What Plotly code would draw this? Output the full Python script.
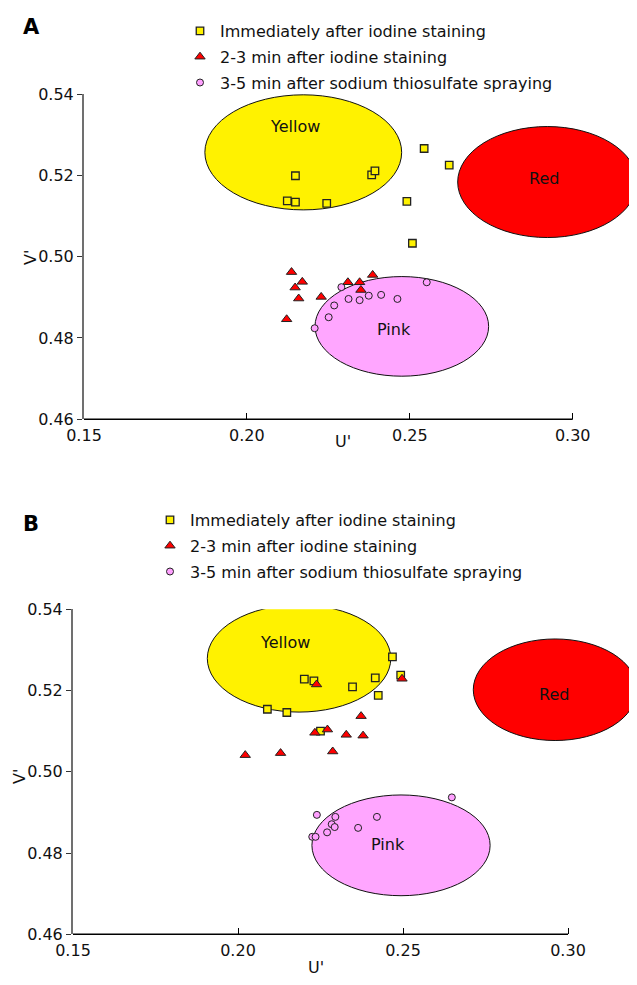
import plotly.graph_objects as go

FONT = "DejaVu Sans"
PAGE_W, PAGE_H = 637, 985
OFF = 8                      # default body margin of the html page
W, H = PAGE_W - 2 * OFF, PAGE_H - 2 * OFF

# ---------------- data ----------------
series_names = ["Immediately after iodine staining",
                "2-3 min after iodine staining",
                "3-5 min after sodium thiosulfate spraying"]

A_sq_u = [0.2149, 0.2124, 0.2149, 0.2245, 0.2383, 0.2393, 0.2544, 0.2621, 0.2491, 0.2508]
A_sq_v = [0.5199, 0.5137, 0.5134, 0.5131, 0.5201, 0.5211, 0.5266, 0.5225, 0.5136, 0.5033]
A_tri_u = [0.2137, 0.2148, 0.2170, 0.2159, 0.2122, 0.2228, 0.2310, 0.2346, 0.2350, 0.2386]
A_tri_v = [0.4962, 0.4924, 0.4938, 0.4897, 0.4846, 0.4901, 0.4937, 0.4937, 0.4918, 0.4955]
A_cir_u = [0.2208, 0.2251, 0.2268, 0.2290, 0.2312, 0.2346, 0.2374, 0.2412, 0.2462, 0.2552]
A_cir_v = [0.4824, 0.4851, 0.4880, 0.4925, 0.4896, 0.4893, 0.4904, 0.4906, 0.4896, 0.4937]

B_sq_u = [0.2089, 0.2148, 0.2201, 0.2230, 0.2347, 0.2416, 0.2425, 0.2468, 0.2493, 0.2250]
B_sq_v = [0.5154, 0.5146, 0.5228, 0.5224, 0.5209, 0.5231, 0.5188, 0.5283, 0.5238, 0.5100]
B_tri_u = [0.2238, 0.2233, 0.2022, 0.2129, 0.2497, 0.2373, 0.2271, 0.2328, 0.2379, 0.2287]
B_tri_v = [0.5215, 0.5096, 0.5041, 0.5046, 0.5229, 0.5137, 0.5104, 0.5091, 0.5089, 0.5050]
B_cir_u = [0.2239, 0.2225, 0.2235, 0.2270, 0.2284, 0.2295, 0.2293, 0.2364, 0.2421, 0.2648]
B_cir_v = [0.4894, 0.4840, 0.4840, 0.4851, 0.4871, 0.4889, 0.4864, 0.4862, 0.4889, 0.4937]

region_names = ["Yellow", "Red", "Pink"]
A_reg_u0 = [0.1871, 0.2647, 0.2209]
A_reg_u1 = [0.2475, 0.3197, 0.2742]
A_reg_v0 = [0.5115, 0.5047, 0.4706]
A_reg_v1 = [0.5398, 0.5320, 0.4951]
A_lab_u = [0.2148, 0.2913, 0.2453]
A_lab_v = [0.5319, 0.5191, 0.4821]

B_reg_u0 = [0.1907, 0.2713, 0.2224]
B_reg_u1 = [0.2463, 0.3209, 0.2764]
B_reg_v0 = [0.5147, 0.5077, 0.4695]
B_reg_v1 = [0.5411, 0.5327, 0.4943]
B_lab_u = [0.2142, 0.2958, 0.2455]
B_lab_v = [0.5318, 0.5191, 0.4822]

x_ticks = [0.15, 0.20, 0.25, 0.30]
y_ticks = [0.46, 0.48, 0.50, 0.52, 0.54]

# ---------------- styles ----------------
region_fill = ["#FFF200", "#FF0000", "#FFA6FF"]
sq_style = dict(symbol="square", size=7.5, color="#FFF200", line=dict(color="#222222", width=1.3))
tri_style = dict(symbol="triangle-up", size=9, color="#FF0000", line=dict(color="#222222", width=1.0))
cir_style = dict(symbol="circle", size=7, color="#FFA0FF", line=dict(color="#222222", width=1.0))

A_left, A_scale = 84, 488.7 / 0.15
B_left, B_scale = 73, 495.0 / 0.15
A_top, A_bot = 94.0, 419.3
B_top, B_bot = 609.3, 934.3
RIGHT_EDGE = OFF + W

A_xr = [0.15, 0.15 + (RIGHT_EDGE - A_left) / A_scale]
B_xr = [0.15, 0.15 + (RIGHT_EDGE - B_left) / B_scale]


def px(xp):
    return (xp - OFF) / W


def py(yp):
    return 1 - (yp - OFF) / H


fig = go.Figure()


def add_points(u, v, style, name, xa, ya, legend):
    fig.add_trace(go.Scatter(x=u, y=v, mode="markers", marker=style, name=name,
                             xaxis=xa, yaxis=ya, legend=legend, legendgroup=legend + name,
                             cliponaxis=False, hoverinfo="skip"))


add_points(A_sq_u, A_sq_v, sq_style, series_names[0], "x", "y", "legend")
add_points(A_tri_u, A_tri_v, tri_style, series_names[1], "x", "y", "legend")
add_points(A_cir_u, A_cir_v, cir_style, series_names[2], "x", "y", "legend")
add_points(B_sq_u, B_sq_v, sq_style, series_names[0], "x2", "y2", "legend2")
add_points(B_tri_u, B_tri_v, tri_style, series_names[1], "x2", "y2", "legend2")
add_points(B_cir_u, B_cir_v, cir_style, series_names[2], "x2", "y2", "legend2")

shapes = []
annotations = []
for (xr, yr, u0s, u1s, v0s, v1s, lus, lvs) in [
        ("x", "y", A_reg_u0, A_reg_u1, A_reg_v0, A_reg_v1, A_lab_u, A_lab_v),
        ("x2", "y2", B_reg_u0, B_reg_u1, B_reg_v0, B_reg_v1, B_lab_u, B_lab_v)]:
    for i, nm in enumerate(region_names):
        shapes.append(dict(type="circle", xref=xr, yref=yr, x0=u0s[i], x1=u1s[i],
                           y0=v0s[i], y1=v1s[i], fillcolor=region_fill[i],
                           line=dict(color="#111111", width=1), layer="below"))
        annotations.append(dict(x=lus[i], y=lvs[i], xref=xr, yref=yr, text=nm,
                                xanchor="center", yanchor="middle", showarrow=False,
                                font=dict(family=FONT, size=16, color="#111111")))

for xr, yr, rng in [("x", "y", A_xr), ("x2", "y2", B_xr)]:
    frac = (x_ticks[-1] - rng[0]) / (rng[1] - rng[0])
    shapes.append(dict(type="line", xref=xr + " domain", yref=yr + " domain",
                       x0=0, x1=frac, y0=0, y1=0, line=dict(color="#000000", width=1.5)))

for txt, x, y in [("A", 31, 27), ("B", 31, 524)]:
    annotations.append(dict(x=px(x), y=py(y), xref="paper", yref="paper",
                            xanchor="center", yanchor="middle",
                            text="<b>" + txt + "</b>", showarrow=False,
                            font=dict(family=FONT, size=21, color="#000000")))
for txt, x, y, ang in [("U'", 343, 441, 0), ("U'", 316, 967, 0),
                       ("V'", 30, 258, -90), ("V'", 19, 777, -90)]:
    annotations.append(dict(x=px(x), y=py(y), xref="paper", yref="paper",
                            xanchor="center", yanchor="middle",
                            text=txt, showarrow=False, textangle=ang,
                            font=dict(family=FONT, size=16, color="#111111")))


def xaxis(left_px, rng, anchor):
    return dict(domain=[px(left_px), 1.0], range=rng, anchor=anchor, automargin=False,
                tickvals=x_ticks, ticktext=["%.2f" % t for t in x_ticks],
                ticks="inside", ticklen=6, tickcolor="#000000", tickwidth=1,
                ticklabelstandoff=5,
                showline=False, showgrid=False, zeroline=False,
                tickfont=dict(family=FONT, size=16, color="#111111"))


def yaxis(top, bot, anchor):
    return dict(domain=[py(bot), py(top)], range=[y_ticks[0], y_ticks[-1]],
                anchor=anchor, automargin=False,
                tickvals=y_ticks, ticktext=["%.2f" % t for t in y_ticks],
                ticks="outside", ticklen=5, tickcolor="#333333", tickwidth=1,
                showline=True, linecolor="#707070", linewidth=2,
                showgrid=False, zeroline=False,
                tickfont=dict(family=FONT, size=16, color="#111111"))


legend_common = dict(xanchor="left", yanchor="top", bgcolor="rgba(0,0,0,0)",
                     font=dict(family=FONT, size=16, color="#111111"),
                     tracegroupgap=2, itemclick=False, itemdoubleclick=False)

fig.update_layout(
    template="none",
    width=W, height=H,
    margin=dict(l=0, r=0, t=0, b=0, autoexpand=False),
    paper_bgcolor="white", plot_bgcolor="white",
    showlegend=True,
    xaxis=xaxis(A_left, A_xr, "y"),
    yaxis=yaxis(A_top, A_bot, "x"),
    xaxis2=xaxis(B_left, B_xr, "y2"),
    yaxis2=yaxis(B_top, B_bot, "x2"),
    legend=dict(x=px(180), y=py(14), **legend_common),
    legend2=dict(x=px(150), y=py(503), **legend_common),
    shapes=shapes,
    annotations=annotations,
)

fig.write_html("out.html")
